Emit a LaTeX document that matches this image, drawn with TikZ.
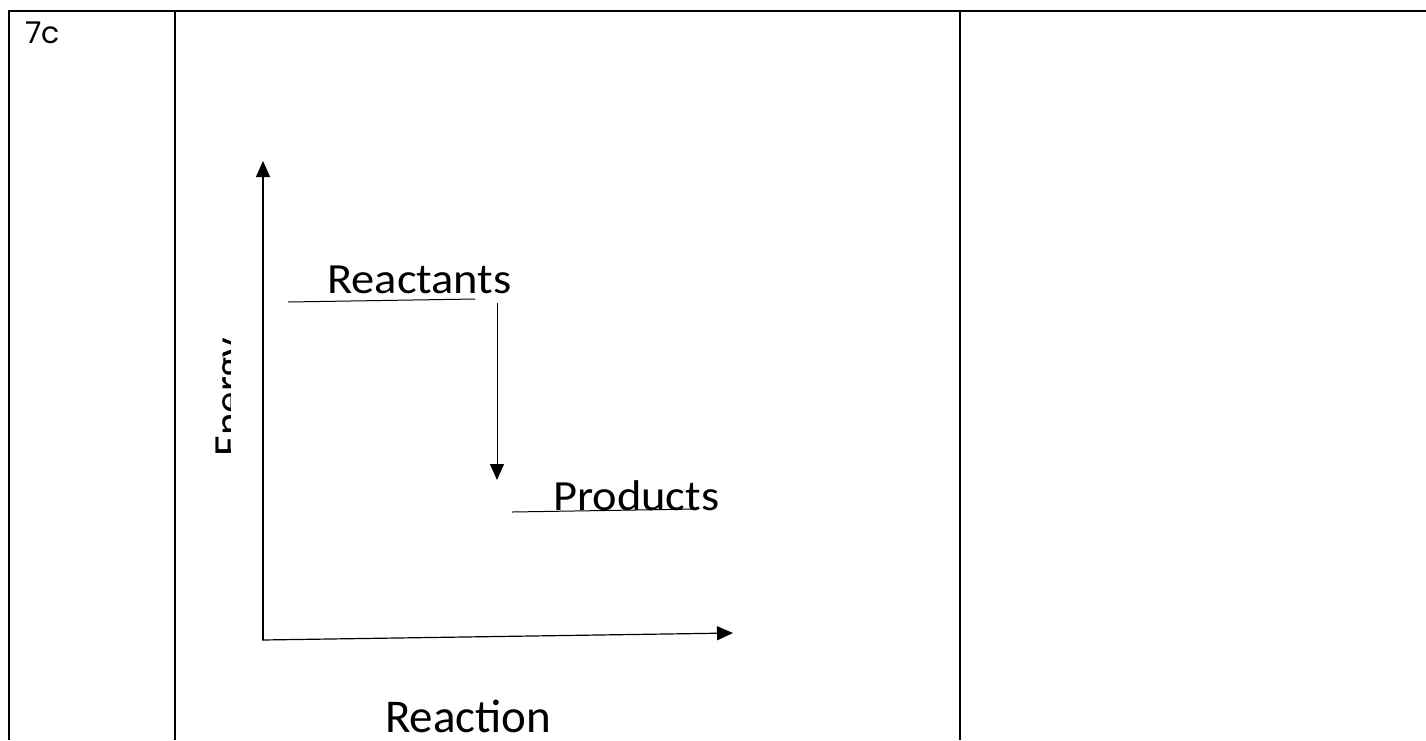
\documentclass[tikz,border=0pt]{standalone}
\usepackage{fontspec}
\setmainfont{Carlito}
\newfontfamily\gothic{Poppins}
\usetikzlibrary{arrows.meta}
\begin{document}
\begin{tikzpicture}[x=1pt,y=-1pt,
  grid/.style={line width=2.5pt},
  axis/.style={line width=1.2pt},
  tipped/.style={-{Triangle[length=16pt,width=14pt]}},
  level/.style={line width=1pt},
  lbl/.style={inner sep=0pt,anchor=base west,font=\fontsize{43}{43}\selectfont}]
\useasboundingbox (0,0) rectangle (1426,740);
% table
\draw[grid] (8,11) -- (1426,11);
\draw[grid] (9,11) -- (9,740);
\draw[grid] (175,11) -- (175,740);
\draw[grid] (960,11) -- (960,740);
\node[inner sep=0pt,anchor=base west,font=\gothic\fontsize{30}{30}\selectfont] (cell) at (25,43) {7c};
% axes
\coordinate (O) at (263,640);
\coordinate (Ytip) at (263,161);
\coordinate (Xtip) at (733,633);
\draw[axis,tipped] (O) -- (Ytip);
\draw[axis,tipped] (262,640) -- (Xtip);
% levels
\coordinate (R1) at (288,302);
\coordinate (R2) at (475,299);
\coordinate (P1) at (512,512);
\coordinate (P2) at (697,509);
\draw[level] (R1) -- (R2);
\draw[level] (P1) -- (P2);
\coordinate (A1) at (497,303);
\coordinate (A2) at (497,480);
\draw[level,tipped] (A1) -- (A2);
% labels
\node[lbl] (react) at (327,293) {\scalebox{1.08}[1]{Reactants}};
\node[lbl] (prod) at (553,510) {\scalebox{1.08}[1]{Products}};
\node[lbl,font=\fontsize{47}{47}\selectfont] (reac) at (385,732) {Reaction};
\begin{scope}
\clip (214,300) rectangle (230,470);
\node[lbl,rotate=90] (energy) at (243,457) {Energy};
\end{scope}
\end{tikzpicture}
\end{document}
